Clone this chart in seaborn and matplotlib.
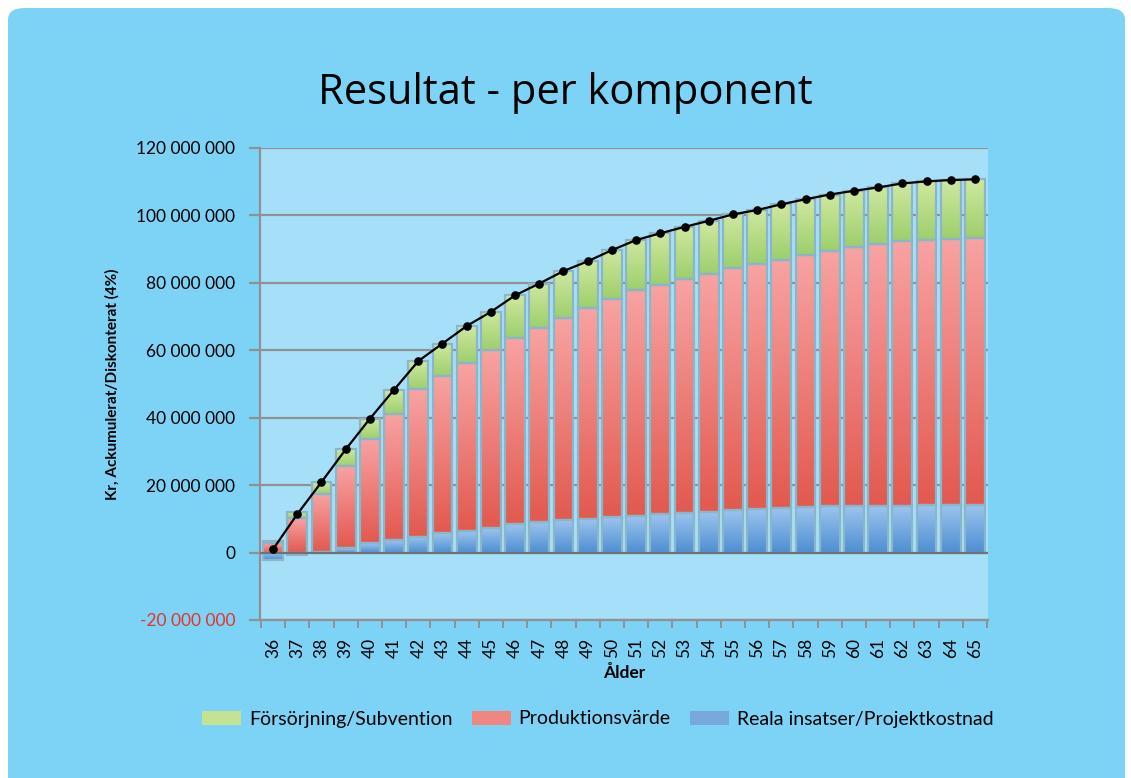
import numpy as np
import matplotlib
matplotlib.use("Agg")
import matplotlib.pyplot as plt
import seaborn as sns
from matplotlib.colors import LinearSegmentedColormap
from matplotlib.patches import FancyBboxPatch, Patch
from matplotlib.ticker import FixedLocator

# ---------------- data (millions of kr) ----------------
ages = [str(a) for a in range(36, 66)]
reala_insatser = [-2.3, -0.6, 0.2, 1.4, 2.8, 3.6, 4.75, 5.7, 6.5, 7.4,
                  8.4, 9.0, 9.6, 9.9, 10.5, 10.8, 11.4, 11.7, 12.0, 12.6,
                  12.8, 13.2, 13.5, 13.7, 13.7, 13.7, 13.7, 14.0, 14.0, 14.0]
produktionsvarde = [2.7, 10.2, 17.3, 24.4, 30.9, 37.6, 43.75, 46.8, 49.8, 52.6,
                    55.3, 57.7, 60.1, 62.6, 64.6, 67.0, 68.1, 69.4, 70.7, 71.7,
                    72.7, 73.7, 74.7, 75.7, 76.8, 77.7, 78.7, 78.7, 79.0, 79.4]
forsorjning = [0.6, 1.8, 3.4, 4.8, 6.0, 7.1, 8.3, 9.5, 10.9, 11.4,
               12.6, 13.1, 13.8, 13.9, 14.6, 14.9, 15.2, 15.5, 15.7, 16.0,
               16.1, 16.4, 16.6, 16.8, 16.8, 16.9, 17.1, 17.4, 17.5, 17.3]
yticks = [-20, 0, 20, 40, 60, 80, 100, 120]
ytick_labels = ["-20 000 000", "0", "20 000 000", "40 000 000", "60 000 000",
                "80 000 000", "100 000 000", "120 000 000"]
series_names = ["Försörjning/Subvention", "Produktionsvärde", "Reala insatser/Projektkostnad"]

M = 1e6
blue = np.array(reala_insatser) * M
red = np.array(produktionsvarde) * M
green = np.array(forsorjning) * M
red_bottom = np.maximum(blue, 0)
green_bottom = red_bottom + red
total = blue + red + green

# ---------------- style ----------------
sns.set_style("white")
plt.rcParams["font.family"] = ["Lato", "DejaVu Sans"]
plt.rcParams["text.color"] = "black"
plt.rcParams["axes.labelcolor"] = "black"
plt.rcParams["xtick.color"] = "black"
plt.rcParams["ytick.color"] = "black"

W, H = 1131, 778
fig = plt.figure(figsize=(W / 100, H / 100), dpi=100)
fig.patch.set_facecolor("white")
card = FancyBboxPatch((8 / W, -0.1), (W - 14) / W, 1.1 - 8 / H, transform=fig.transFigure,
                      boxstyle="round,pad=0,rounding_size=0.015", facecolor="#7dd3f5",
                      edgecolor="none", zorder=-5)
fig.patches.append(card)

ax = fig.add_axes([260 / W, (H - 620) / H, (988 - 260) / W, (620 - 148) / H])
ax.set_zorder(2)
ax.set_facecolor("#a6e0f8")

grid_c = "#8e9296"
bar_w = 0.82
sns.barplot(x=ages, y=blue, order=ages, color="#6fa3dc", saturation=1, width=bar_w, ax=ax, zorder=3)
sns.barplot(x=ages, y=red, bottom=red_bottom, order=ages, color="#ee7a72", saturation=1,
            width=bar_w, ax=ax, zorder=3)
sns.barplot(x=ages, y=green, bottom=green_bottom, order=ages, color="#b8dc88", saturation=1,
            width=bar_w, ax=ax, zorder=3)

grads = [("#9cc4ee", "#4d8ed2"), ("#f8a3a3", "#e2594f"), ("#cfe8a0", "#9dcf6c")]
containers = ax.containers
for cont, (ctop, cbot) in zip(containers, grads):
    cmap = LinearSegmentedColormap.from_list("g", [cbot, ctop])
    img = np.linspace(1, 0, 128).reshape(-1, 1)
    for p in cont.patches:
        x0, w = p.get_x(), p.get_width()
        y0, h = p.get_y(), p.get_height()
        lo, hi = min(y0, y0 + h), max(y0, y0 + h)
        if hi - lo <= 0:
            continue
        ax.imshow(img, cmap=cmap, vmin=0, vmax=1, extent=[x0, x0 + w, lo, hi],
                  aspect="auto", origin="upper", zorder=3.5, interpolation="bilinear")
        p.set_facecolor("none")
        p.set_edgecolor("#8bb6c9")
        p.set_linewidth(1.6)
        p.set_zorder(3.6)

sns.pointplot(x=ages, y=total, order=ages, color="black", markers="o", linestyles="-",
              errorbar=None, ax=ax, linewidth=1.6, markersize=5, zorder=6)

ax.set_xlim(-0.54, 29.54)
ax.set_ylim(-20 * M, 120 * M)
ax.set_aspect("auto")

# grid and spines
ax.yaxis.set_major_locator(FixedLocator([v * M for v in yticks]))
ax.set_yticklabels(ytick_labels)
for v in yticks:
    ax.axhline(v * M, color=grid_c if v != 0 else "#6e7276", lw=1.6, zorder=2 if v != 0 else 4)
for s in ["top", "right"]:
    ax.spines[s].set_visible(False)
for s in ["left", "bottom"]:
    ax.spines[s].set_color(grid_c)
    ax.spines[s].set_linewidth(1.6)

ax.tick_params(axis="y", which="major", direction="out", length=8, width=1.6, color=grid_c,
               pad=10, labelsize=12.5, left=True, labelcolor="black")
for lbl in ax.get_yticklabels():
    lbl.set_color("#e8322c" if lbl.get_text().startswith("-") else "black")

ax.set_xticks(range(len(ages)))
ax.set_xticklabels(ages, rotation=90)
ax.set_xticks(np.arange(-0.5, len(ages), 1.0), minor=True)
ax.tick_params(axis="x", which="major", length=0, labelsize=12.5, pad=13, labelcolor="black")
ax.tick_params(axis="x", which="minor", direction="out", length=6, width=1.4, color=grid_c, bottom=True)

ax.set_xlabel("Ålder", fontsize=12.5, fontweight="bold", labelpad=5)
ax.set_ylabel("Kr, Ackumulerat/Diskonterat (4%)", fontsize=11, fontweight="bold", labelpad=12)

fig.text(0.5, 1 - 93 / H, "Resultat - per komponent", ha="center", va="center",
         fontsize=30, color="black", family=["Open Sans", "DejaVu Sans"])

handles = [Patch(facecolor="#c4e294", edgecolor="none"),
           Patch(facecolor="#f08682", edgecolor="none"),
           Patch(facecolor="#78a8dc", edgecolor="none")]
fig.legend(handles, series_names, loc="center", bbox_to_anchor=(598 / W, 1 - 719 / H),
           ncol=3, frameon=False, fontsize=14, handlelength=2.0, handleheight=0.7,
           handletextpad=0.4, columnspacing=1.0)

fig.savefig("out.png", dpi=100, facecolor=fig.get_facecolor())
